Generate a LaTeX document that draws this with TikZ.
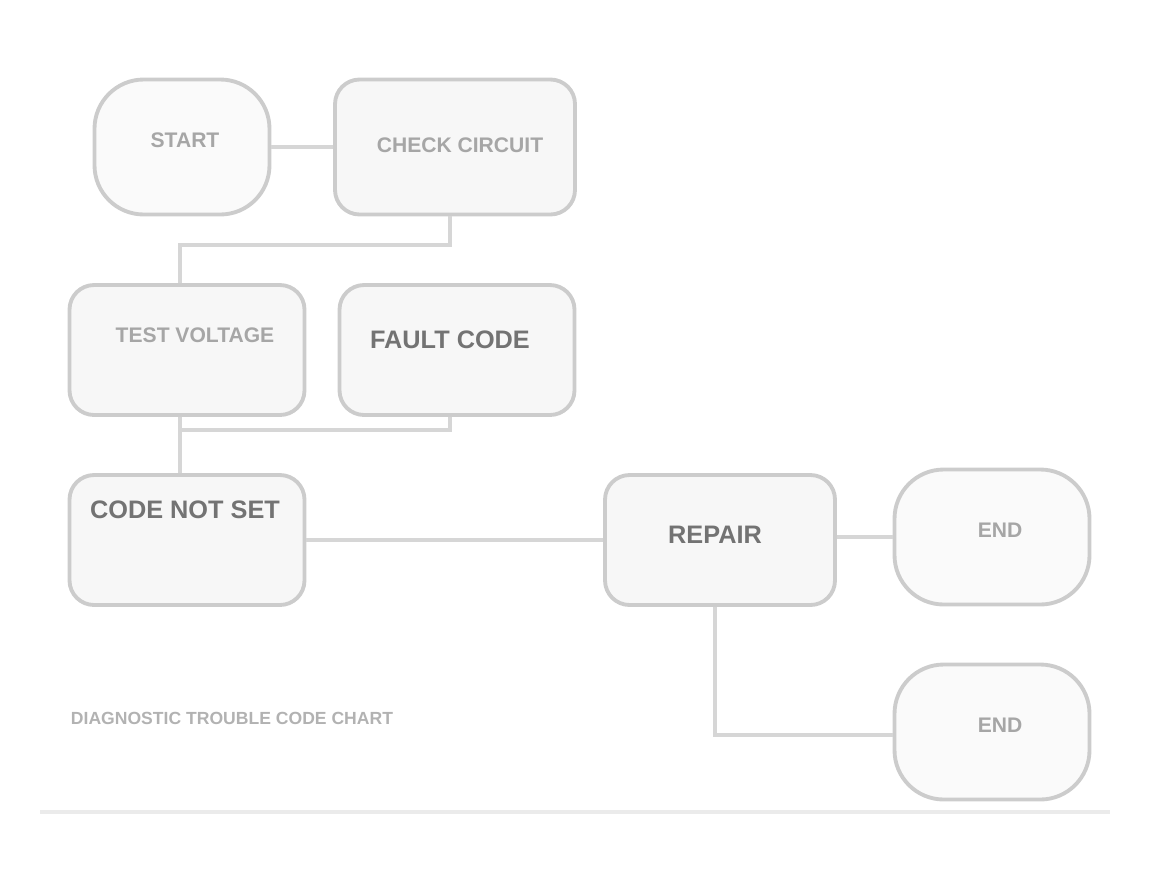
\documentclass[tikz,border=0pt]{standalone}
\usepackage{fontspec}
\setmainfont{Liberation Sans}
\begin{document}
\begin{tikzpicture}[x=0.02cm,y=-0.02cm,
  boxst/.style={draw=black!20,line width=2.2pt,rounded corners=14pt,fill=black!3,inner sep=0pt},
  termst/.style={draw=black!20,line width=2.2pt,rounded corners=28pt,fill=black!2,inner sep=0pt},
  txt/.style={text=black!35,font=\bfseries\large,align=center},
  dtxt/.style={text=black!55,font=\bfseries\Large,align=center},
  wire/.style={draw=black!16,line width=2.5pt}]
\useasboundingbox (0,0) rectangle (1151,893);
% boxes
\node[termst,minimum width=175*0.02cm,minimum height=135*0.02cm] (a) at (182,147) {};
\node[boxst,minimum width=240*0.02cm,minimum height=135*0.02cm] (b) at (455,147) {};
\node[boxst,minimum width=235*0.02cm,minimum height=130*0.02cm] (c) at (187,350) {};
\node[boxst,minimum width=235*0.02cm,minimum height=130*0.02cm] (d) at (457,350) {};
\node[boxst,minimum width=235*0.02cm,minimum height=130*0.02cm] (e) at (187,540) {};
\node[boxst,minimum width=230*0.02cm,minimum height=130*0.02cm] (f) at (720,540) {};
\node[termst,minimum width=195*0.02cm,minimum height=135*0.02cm] (g) at (992,537) {};
\node[termst,minimum width=195*0.02cm,minimum height=135*0.02cm] (h) at (992,732) {};
% texts
\node[txt] (ta) at (185,140) {START};
\node[txt] (tb) at (460,145) {CHECK CIRCUIT};
\node[txt] (tc) at (195,335) {TEST VOLTAGE};
\node[dtxt] (td) at (450,340) {FAULT CODE};
\node[dtxt] (te) at (185,510) {CODE NOT SET};
\node[dtxt] (tf) at (715,535) {REPAIR};
\node[txt] (tg) at (1000,530) {END};
\node[txt] (th) at (1000,725) {END};
\node[text=black!30,font=\bfseries] (cap) at (232,718) {DIAGNOSTIC TROUBLE CODE CHART};
% connectors
\draw[wire] (a.east) -- (b.west);
\coordinate (j1) at (450,245);
\coordinate (j2) at (180,245);
\draw[wire] (b.south -| j1) -- (j1) -- (j2) -- (c.north -| j2);
\coordinate (j3) at (450,430);
\coordinate (j4) at (180,430);
\draw[wire] (d.south -| j3) -- (j3) -- (j4) -- (e.north -| j4);
\draw[wire] (c.south -| j4) -- (j4);
\draw[wire] (e.east) -- (f.west);
\coordinate (j6) at (865,537);
\draw[wire] (f.east |- j6) -- (g.west |- j6);
\coordinate (j5) at (715,735);
\draw[wire] (f.south -| j5) -- (j5) -- (h.west |- j5);
% bottom rule
\coordinate (r1) at (40,812);
\coordinate (r2) at (1110,812);
\draw[draw=black!8,line width=2pt] (r1) -- (r2);
\end{tikzpicture}
\end{document}
